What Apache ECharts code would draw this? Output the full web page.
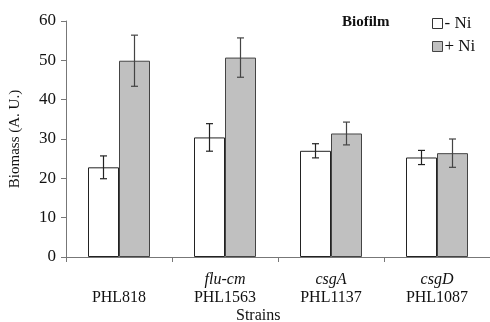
<!DOCTYPE html>
<html>
<head>
<meta charset="utf-8">
<script src="https://cdn.jsdelivr.net/npm/echarts@6/dist/echarts.min.js"></script>
<style>html,body{margin:0;padding:0;background:#fff;}#c{width:490px;height:322px;}</style>
</head>
<body>
<div id="c"></div>
<script>
var strains = ['PHL818', 'PHL1563', 'PHL1137', 'PHL1087'];
var genes = ['', 'flu-cm', 'csgA', 'csgD'];
var minusNi = [22.8, 30.4, 27.0, 25.3];
var minusNiErr = [2.9, 3.5, 1.8, 1.8];
var plusNi = [49.9, 50.7, 31.4, 26.4];
var plusNiErr = [6.5, 5.0, 2.9, 3.6];
var yTicks = [0, 10, 20, 30, 40, 50, 60];

var FONT = '"Liberation Serif", "Times New Roman", serif';
var BAR_W = 31;

function errSeries(vals, errs, side, color) {
  var data = vals.map(function (v, i) { return [i, v - errs[i], v + errs[i]]; });
  return {
    type: 'custom',
    silent: true,
    z: 10,
    data: data,
    encode: { x: 0, y: [1, 2] },
    renderItem: function (params, api) {
      var i = api.value(0);
      var lo = api.coord([i, api.value(1)]);
      var hi = api.coord([i, api.value(2)]);
      var x = lo[0] + side * BAR_W / 2;
      var cap = 3.5;
      var st = { stroke: color, lineWidth: 1.2 };
      return {
        type: 'group',
        children: [
          { type: 'line', shape: { x1: x, y1: lo[1], x2: x, y2: hi[1] }, style: st },
          { type: 'line', shape: { x1: x - cap, y1: lo[1], x2: x + cap, y2: lo[1] }, style: st },
          { type: 'line', shape: { x1: x - cap, y1: hi[1], x2: x + cap, y2: hi[1] }, style: st }
        ]
      };
    }
  };
}

var chart = echarts.init(document.getElementById('c'));
chart.setOption({
  animation: false,
  backgroundColor: '#fff',
  grid: { left: 65, top: 21, width: 428, height: 236, containLabel: false },
  legend: {
    orient: 'vertical',
    left: 427,
    top: 10,
    icon: 'rect',
    itemWidth: 10,
    itemHeight: 10,
    itemGap: 6,
    textStyle: { fontFamily: FONT, fontSize: 17, color: '#111', padding: [0, 0, 0, -3] },
    data: [
      { name: '- Ni', itemStyle: { color: '#fff', borderColor: '#333', borderWidth: 1 } },
      { name: '+ Ni', itemStyle: { color: '#c0c0c0', borderColor: '#444', borderWidth: 1 } }
    ]
  },
  graphic: [
    { type: 'text', left: 342, top: 15, style: { text: 'Biofilm', font: 'bold 15px ' + FONT, fill: '#111' } },
    { type: 'text', left: 236, top: 308, style: { text: 'Strains', font: '16px ' + FONT, fill: '#111' } }
  ],
  xAxis: {
    type: 'category',
    data: strains,
    axisLine: { lineStyle: { color: '#777', width: 1 } },
    axisTick: { show: true, length: 5, lineStyle: { color: '#777' } },
    axisLabel: {
      margin: 14,
      interval: 0,
      formatter: function (v, i) {
        return '{g|' + (genes[i] || '\u00a0') + '}\n{s|' + v + '}';
      },
      rich: {
        g: { fontFamily: FONT, fontSize: 16, fontStyle: 'italic', color: '#111', lineHeight: 18 },
        s: { fontFamily: FONT, fontSize: 16, color: '#111', lineHeight: 18 }
      }
    },
    splitLine: { show: false }
  },
  yAxis: {
    type: 'value',
    min: 0,
    max: 60,
    interval: 10,
    name: 'Biomass (A. U.)',
    nameLocation: 'middle',
    nameGap: 43,
    nameRotate: 90,
    nameTextStyle: { fontFamily: FONT, fontSize: 15, color: '#111' },
    axisLine: { show: true, lineStyle: { color: '#777', width: 1 } },
    axisTick: { show: true, length: 5, lineStyle: { color: '#777' } },
    axisLabel: {
      margin: 10,
      fontFamily: FONT,
      fontSize: 17,
      color: '#111',
      formatter: function (v) { return yTicks.indexOf(v) >= 0 ? String(v) : ''; }
    },
    splitLine: { show: false }
  },
  series: [
    {
      name: '- Ni', type: 'bar', data: minusNi, barWidth: BAR_W, barGap: '0%',
      itemStyle: { color: '#fff', borderColor: '#222', borderWidth: 1 }
    },
    {
      name: '+ Ni', type: 'bar', data: plusNi, barWidth: BAR_W, barGap: '0%',
      itemStyle: { color: '#c0c0c0', borderColor: '#444', borderWidth: 1 }
    },
    errSeries(minusNi, minusNiErr, -1, '#222'),
    errSeries(plusNi, plusNiErr, 1, '#444')
  ]
});
</script>
</body>
</html>
